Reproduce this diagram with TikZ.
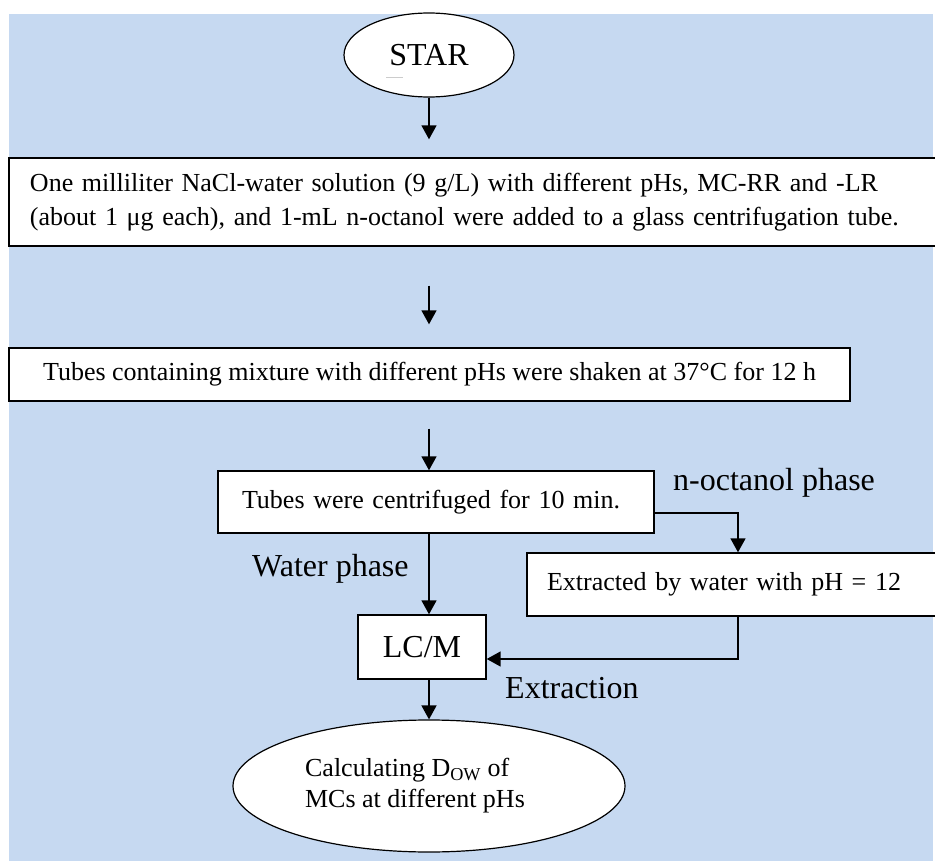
\documentclass[tikz,border=0pt]{standalone}
\usepackage{fontspec}
\setmainfont{Liberation Serif}
\usetikzlibrary{shapes.geometric,arrows.meta}
\definecolor{bgblue}{HTML}{C6D9F1}
\tikzset{
  box/.style={draw=black, fill=white, line width=1.4pt, rectangle, inner sep=0pt, font=\fontsize{26}{34}\selectfont},
  oval/.style={draw=black, fill=white, line width=1.2pt, ellipse, inner sep=0pt},
  arr/.style={-{Triangle[length=14pt,width=15pt]}, line width=1.6pt},
  lab/.style={font=\fontsize{32}{38}\selectfont, inner sep=0pt}
}
\begin{document}
\begin{tikzpicture}[x=1pt, y=-1pt]
\useasboundingbox (0,0) rectangle (935,861);
% background
\fill[bgblue] (9,14) rectangle (933,861);

% start
\node[oval, minimum width=170pt, minimum height=84pt, font=\fontsize{32}{38}\selectfont] (star) at (429,55) {STAR};
\draw[gray!40, line width=0.8pt] (386,77) -- (403,77);

% steps
\node[box, minimum width=941pt, minimum height=88pt, text width=899pt, align=left] (mix) at (479.5,202)
	{One milliliter NaCl-water solution (9 g/L) with different pHs, MC-RR and -LR\\
	 (about 1 μg each), and 1-mL n-octanol were added to a glass centrifugation tube.};
\node[box, minimum width=841pt, minimum height=53pt] (shake) at (429.5,374.5)
	{Tubes containing mixture with different pHs were shaken at 37°C for 12 h};
\node[box, minimum width=436pt, minimum height=62pt, text width=388pt, align=left] (spin) at (436,502)
	{Tubes were centrifuged for 10 min.};
\node[box, minimum width=422pt, minimum height=63pt, text width=382pt, align=left] (extract) at (738,584.5)
	{Extracted by water with pH = 12};
\node[box, minimum width=128pt, minimum height=64pt, font=\fontsize{32}{38}\selectfont] (lcm) at (422,647) {LC/M};

% end
\node[oval, minimum width=392pt, minimum height=132pt, align=left, font=\fontsize{26}{31}\selectfont] (calc) at (429,786)
	{Calculating D\textsubscript{OW} of\\MCs at different pHs\hspace*{28pt}};

% labels
\node[lab, anchor=base west] (oct) at (673,490) {n-octanol phase};
\node[lab, anchor=base west] (water) at (252,576) {Water phase};
\node[lab, anchor=base west] (extr) at (505,698) {Extraction};

% arrows
\draw[arr, shorten >=18pt] (star) -- (star |- mix.north);
\draw[arr, shorten <=39pt, shorten >=23pt] (star |- mix.south) -- (star |- shake.north);
\draw[arr, shorten <=27pt] (star |- shake.south) -- (star |- spin.north);
\draw[arr] ([yshift=-11pt]spin.east) -| (extract.north);
\draw[arr] (star |- spin.south) -- (star |- lcm.north);
\draw[arr] (extract.south) |- ([yshift=-12pt]lcm.east);
\draw[arr] (star |- lcm.south) -- (calc);

\end{tikzpicture}
\end{document}
